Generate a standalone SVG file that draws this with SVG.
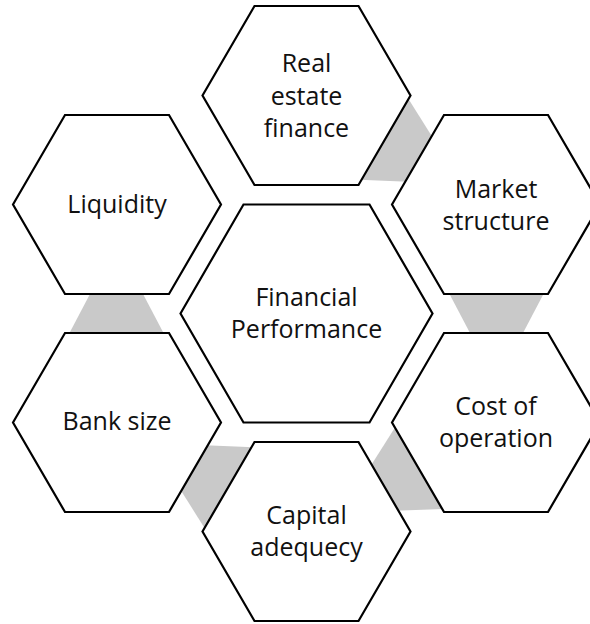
<svg xmlns="http://www.w3.org/2000/svg" width="590" height="624" viewBox="0 0 590 624">
  <style>
    .hex { fill: #ffffff; stroke: #000000; stroke-width: 2.2; stroke-linejoin: miter; }
    .link { fill: #c9c9c9; stroke: none; }
    .label { font-family: "Open Sans", "Liberation Sans", sans-serif; font-size: 25px; fill: #111111; text-anchor: middle; }
  </style>
  <defs>
    <!-- flat-topped hexagons centred on the origin -->
    <polygon id="hex-outer" points="-104,0 -52,-89.5 52,-89.5 104,0 52,89.5 -52,89.5"/>
    <polygon id="hex-centre" points="-126,0 -63,-109 63,-109 126,0 63,109 -63,109"/>
    <!-- tapered band between two neighbouring outer hexagons (wide end at the source) -->
    <polygon id="band" points="142.2,-21 237.8,-21 215.2,22 164.8,22"/>
  </defs>

  <rect width="590" height="624" fill="#ffffff"/>

  <!-- connectors, rotated about the ring centre -->
  <g id="connectors" transform="translate(306.5 313.5)">
    <use href="#band" class="link" transform="rotate(-60)"/>
    <use href="#band" class="link"/>
    <use href="#band" class="link" transform="rotate(60)"/>
    <use href="#band" class="link" transform="rotate(120)"/>
    <use href="#band" class="link" transform="rotate(180)"/>
  </g>

  <g id="financial-performance" transform="translate(306.5 313.5)">
    <use href="#hex-centre" class="hex"/>
    <text class="label" x="0" y="-8">Financial</text>
    <text class="label" x="0" y="24">Performance</text>
  </g>

  <g id="real-estate-finance" transform="translate(306.5 95.5)">
    <use href="#hex-outer" class="hex"/>
    <text class="label" x="0" y="-23.5">Real</text>
    <text class="label" x="0" y="9">estate</text>
    <text class="label" x="0" y="41">finance</text>
  </g>

  <g id="market-structure" transform="translate(496 204.5)">
    <use href="#hex-outer" class="hex"/>
    <text class="label" x="0" y="-7">Market</text>
    <text class="label" x="0" y="25">structure</text>
  </g>

  <g id="cost-of-operation" transform="translate(496 422.5)">
    <use href="#hex-outer" class="hex"/>
    <text class="label" x="0" y="-8">Cost of</text>
    <text class="label" x="0" y="24">operation</text>
  </g>

  <g id="capital-adequecy" transform="translate(306.5 531.5)">
    <use href="#hex-outer" class="hex"/>
    <text class="label" x="0" y="-8">Capital</text>
    <text class="label" x="0" y="24">adequecy</text>
  </g>

  <g id="bank-size" transform="translate(117 422.5)">
    <use href="#hex-outer" class="hex"/>
    <text class="label" x="0" y="7">Bank size</text>
  </g>

  <g id="liquidity" transform="translate(117 204.5)">
    <use href="#hex-outer" class="hex"/>
    <text class="label" x="0" y="8.5">Liquidity</text>
  </g>
</svg>
